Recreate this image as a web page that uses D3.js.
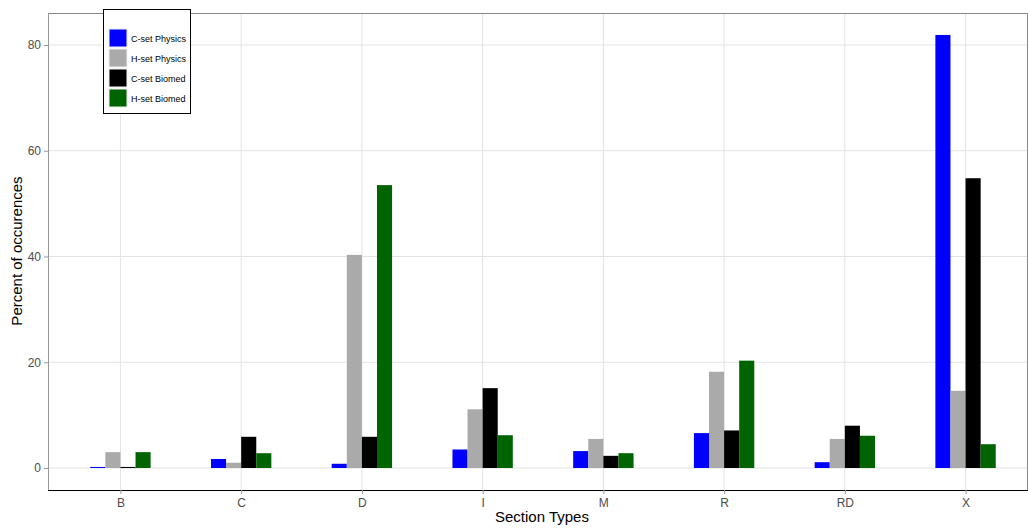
<!DOCTYPE html>
<html>
<head>
<meta charset="utf-8">
<script src="https://cdn.jsdelivr.net/npm/d3@7"></script>
<style>
  body { margin: 0; background: #fff; }
  text { font-family: "Liberation Sans", Arial, sans-serif; }
</style>
</head>
<body>
<svg id="chart" width="1028" height="528"></svg>
<script>
// data
var categories = ["B", "C", "D", "I", "M", "R", "RD", "X"];
var seriesNames = ["C-set Physics", "H-set Physics", "C-set Biomed", "H-set Biomed"];
var seriesColors = ["#0000ff", "#aaaaaa", "#000000", "#006400"];
var cPhysics = [0.2, 1.7, 0.8, 3.5, 3.2, 6.6, 1.1, 81.9];
var hPhysics = [3.0, 1.0, 40.3, 11.1, 5.5, 18.2, 5.5, 14.6];
var cBiomed  = [0.2, 5.9, 5.9, 15.1, 2.3, 7.1, 8.0, 54.8];
var hBiomed  = [3.0, 2.8, 53.5, 6.2, 2.8, 20.3, 6.1, 4.5];
var yTicks = [0, 20, 40, 60, 80];

var series = [cPhysics, hPhysics, cBiomed, hBiomed];

var svg = d3.select("#chart");
// panel edges (avoid the name "top", it is window.top)
var pLeft = 48, pRight = 1027, pTop = 13, pBottom = 490;

var x = d3.scalePoint().domain(categories).range([pLeft, 1038]).padding(0.6);
var y = d3.scaleLinear().domain([-4.16, 86.05]).range([pBottom, pTop]);
var barW = x.step() * 0.5 / 4;
var inner = d3.scaleBand().domain(d3.range(4)).range([-barW * 2, barW * 2]);

// grid
svg.append("g").selectAll("line").data(yTicks).enter().append("line")
  .attr("x1", pLeft).attr("x2", pRight)
  .attr("y1", function(d) { return y(d); }).attr("y2", function(d) { return y(d); })
  .attr("stroke", "#e3e3e3").attr("stroke-width", 1);
svg.append("g").selectAll("line").data(categories).enter().append("line")
  .attr("x1", function(d) { return x(d); }).attr("x2", function(d) { return x(d); })
  .attr("y1", pTop).attr("y2", pBottom)
  .attr("stroke", "#e3e3e3").attr("stroke-width", 1);

// bars
var bars = [];
categories.forEach(function(c, i) {
  series.forEach(function(s, j) {
    bars.push({cat: c, s: j, v: s[i]});
  });
});
svg.append("g").selectAll("rect").data(bars).enter().append("rect")
  .attr("x", function(d) { return x(d.cat) + inner(d.s); })
  .attr("width", inner.bandwidth())
  .attr("y", function(d) { return y(d.v); })
  .attr("height", function(d) { return y(0) - y(d.v); })
  .attr("fill", function(d) { return seriesColors[d.s]; });

// panel border
svg.append("line").attr("x1", pLeft).attr("x2", pRight).attr("y1", pTop + 0.5).attr("y2", pTop + 0.5)
  .attr("stroke", "#888");
svg.append("line").attr("x1", pRight + 0.5).attr("x2", pRight + 0.5).attr("y1", pTop).attr("y2", pBottom)
  .attr("stroke", "#888");

// axes
var yAxis = svg.append("g").attr("transform", "translate(" + pLeft + ",0)")
  .call(d3.axisLeft(y).tickValues(yTicks).tickSize(4).tickPadding(3));
yAxis.select(".domain").attr("stroke", "#999").attr("d", "M0.5," + pTop + "V" + pBottom);
yAxis.selectAll(".tick line").attr("stroke", "#999");
yAxis.selectAll("text").attr("fill", "#4d4d4d").style("font-size", "12px");

var xAxis = svg.append("g").attr("transform", "translate(0," + pBottom + ")")
  .call(d3.axisBottom(x).tickSize(4).tickPadding(4));
xAxis.select(".domain").attr("stroke", "#000").attr("d", "M" + pLeft + ",0.5H" + (pRight + 1));
xAxis.selectAll(".tick line").attr("stroke", "#999");
xAxis.selectAll("text").attr("fill", "#4d4d4d").style("font-size", "12px");

// axis titles
svg.append("text").attr("x", 542).attr("y", 522).attr("text-anchor", "middle")
  .style("font-size", "15px").attr("fill", "#000").text("Section Types");
svg.append("text").attr("transform", "translate(22,251) rotate(-90)").attr("text-anchor", "middle")
  .style("font-size", "15px").attr("fill", "#000").text("Percent of occurences");

// legend
var lg = svg.append("g").attr("transform", "translate(103,9)");
lg.append("rect").attr("x", 0.5).attr("y", 0.5).attr("width", 87).attr("height", 104)
  .attr("fill", "#fff").attr("stroke", "#000").attr("stroke-width", 1);
var item = lg.selectAll("g.item").data(seriesNames).enter().append("g")
  .attr("transform", function(d, i) { return "translate(6," + (20 + i * 20) + ")"; });
item.append("rect").attr("width", 18).attr("height", 18)
  .attr("fill", function(d, i) { return seriesColors[i]; })
  .attr("stroke", "#f0f0f0").attr("stroke-width", 1);
item.append("text").attr("x", 22).attr("y", 12.5).style("font-size", "9px").attr("fill", "#000")
  .text(function(d) { return d; });
</script>
</body>
</html>
